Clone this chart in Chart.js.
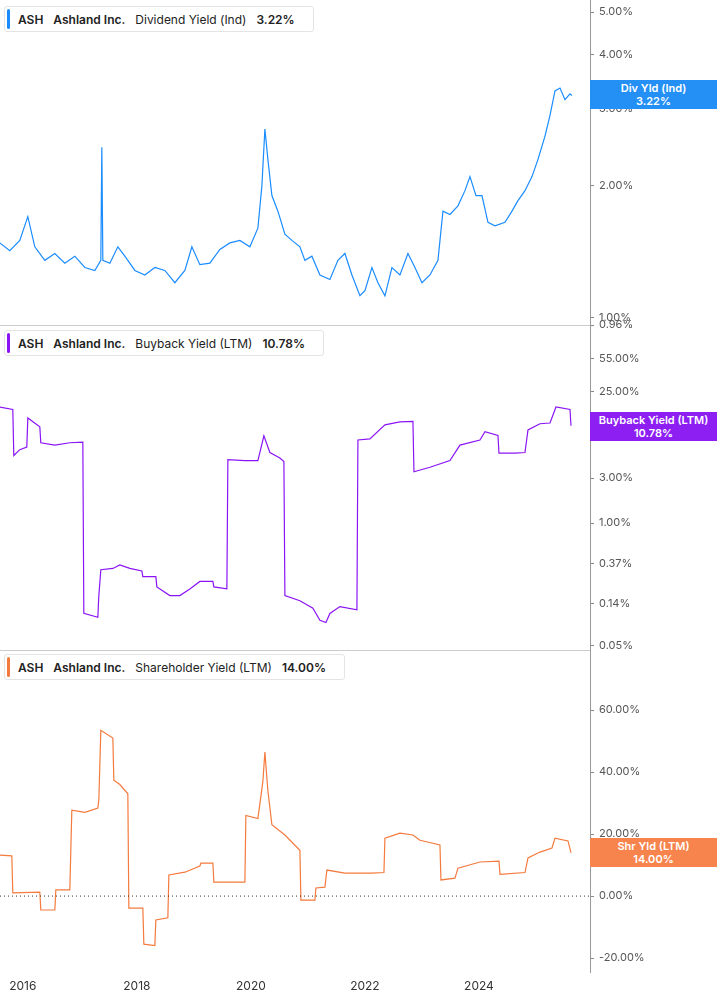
<!DOCTYPE html>
<html><head><meta charset="utf-8">
<script src="https://cdn.jsdelivr.net/npm/chart.js@4/dist/chart.umd.min.js"></script>
<style>
body{margin:0;width:717px;height:1005px;position:relative;background:#fff;font-family:Inter,"Noto Sans",sans-serif;overflow:hidden}
.p{position:absolute;left:0;width:717px}
.leg{position:absolute;left:4px;height:24px;border:1px solid #e4e4e4;border-radius:3px;background:#fff;font-size:12px;color:#222;display:flex;align-items:center;padding-right:8px;white-space:nowrap}
.leg i{display:inline-block;width:3px;height:20px;border-radius:2px;margin:0 8px 0 2px}
.leg b{font-weight:600;margin-right:10px}
.leg span{margin-right:10px}
.tag{position:absolute;left:590px;width:127px;height:29px;color:#fff;font-size:11px;font-weight:600;text-align:center;line-height:13px;padding-top:2px;box-sizing:border-box}
.sep{position:absolute;left:0;width:590px;height:1px;background:#ccc}
</style></head><body>
<div class="p" style="top:325px;height:325px"><canvas id="c2"></canvas></div>
<div class="p" style="top:650px;height:355px"><canvas id="c3"></canvas></div>
<div class="p" style="top:0;height:335px;z-index:2"><canvas id="c1"></canvas></div>
<div class="sep" style="top:325px"></div><div class="sep" style="top:650px"></div>
<div class="leg" style="top:6px;z-index:3"><i style="background:#1a8cff"></i><b>ASH</b><b>Ashland Inc.</b><span>Dividend Yield (Ind)</span><b>3.22%</b></div>
<div class="leg" style="top:330px"><i style="background:#8b14f5"></i><b>ASH</b><b>Ashland Inc.</b><span>Buyback Yield (LTM)</span><b>10.78%</b></div>
<div class="leg" style="top:654px"><i style="background:#f47a3d"></i><b>ASH</b><b>Ashland Inc.</b><span>Shareholder Yield (LTM)</span><b>14.00%</b></div>
<div class="tag" style="top:80px;background:#2490f5;z-index:3">Div Yld (Ind)<br>3.22%</div>
<div class="tag" style="top:412px;background:#8d1ff3">Buyback Yield (LTM)<br>10.78%</div>
<div class="tag" style="top:838px;background:#f7844c">Shr Yld (LTM)<br>14.00%</div>
<script>
const divX=[0,10,20,28,35,45,55,65,75,85,95,101,102,103,110,118,125,135,145,155,165,175,185,192,200,210,220,230,240,250,258,262,265,268,272,278,285,292,300,305,312,320,330,338,345,352,360,365,372,378,385,392,400,408,415,422,430,438,443,450,458,465,470,476,482,488,495,505,512,518,525,532,538,545,550,555,560,565,570,572];
const divY=[1.48,1.42,1.5,1.7,1.45,1.35,1.4,1.33,1.38,1.3,1.28,1.35,2.45,1.35,1.33,1.45,1.38,1.28,1.25,1.3,1.28,1.2,1.28,1.45,1.32,1.33,1.43,1.48,1.5,1.45,1.6,2.0,2.7,2.3,1.9,1.75,1.55,1.5,1.45,1.35,1.38,1.25,1.22,1.35,1.4,1.25,1.12,1.15,1.3,1.2,1.12,1.3,1.25,1.4,1.3,1.2,1.25,1.35,1.75,1.72,1.8,1.95,2.1,1.9,1.9,1.65,1.62,1.65,1.75,1.85,1.95,2.1,2.3,2.6,2.9,3.3,3.35,3.15,3.25,3.22];
const bbX=[0,13,14,20,27,28,40,41,55,70,83,84,98,99,101,113,120,130,142,143,156,157,170,180,190,200,213,214,227,228,245,258,264,270,280,284,285,300,313,320,326,330,340,357,358,370,385,400,413,414,430,450,460,480,485,498,499,515,525,528,540,550,556,570,571];
const bbY=[17,16,5.2,6,6.4,13,10.5,7.1,6.7,7.1,7.2,0.11,0.10,0.17,0.32,0.33,0.36,0.33,0.31,0.27,0.27,0.21,0.17,0.17,0.2,0.24,0.24,0.21,0.2,4.7,4.6,4.6,8.4,5.6,4.9,4.5,0.17,0.15,0.125,0.093,0.088,0.11,0.13,0.12,7.6,7.8,11,11.8,12,3.5,3.9,4.6,6.7,7.6,9.3,8.5,5.5,5.5,5.6,9.7,11.3,11.5,17,16,10.78];
const shX=[0,12,13,40,41,55,56,70,72,85,98,99,101,113,114,120,128,129,143,144,155,156,168,169,185,200,201,213,214,245,246,258,263,265,268,272,285,300,301,315,316,325,327,345,372,384,385,400,413,420,440,441,455,458,480,499,500,525,528,540,552,555,568,571];
const shY=[13.2,13,1,1.3,-4.5,-4.5,2,2,27.7,27,28.4,31,53.5,51,37.4,36,33,-3.9,-3.9,-15.5,-16,-7.7,-7,6.8,7.7,9.7,10.6,10.6,4.5,4.5,26,25,37,46.5,34,23,19.7,14.8,-1.3,-1.3,2.6,2.9,8.4,7.4,7.4,7.6,18.7,20.3,19.7,18,16.5,5.2,5.8,9,11,11.3,7,7.6,12.3,14.2,15.5,18.7,17.8,14];
const yearTicks=[2016,2018,2020,2022,2024];
const divTicks=[1,2,3,4,5];
const bbTicks=[0.05,0.14,0.37,1,3,8,25,55];
const shTicks=[-20,0,20,40,60];
const toYear=x=>2016+(x-23)/57;
const pts=(xs,ys)=>xs.map((x,i)=>({x:toYear(x),y:ys[i]}));
const XMIN=2015.6,XMAX=toYear(590);
function mk(id,data,color,yopt,ticks,showX,padB){
  const xs={type:'linear',min:XMIN,max:XMAX,display:showX,grid:{display:false,drawTicks:true,tickLength:4},border:{display:false},
    afterBuildTicks:s=>{s.ticks=yearTicks.map(v=>({value:v}))},
    ticks:{color:'#333',font:{size:12,family:'Inter'},callback:v=>String(v),maxRotation:0,autoSkip:false}};
  if(showX) xs.afterFit=s=>{s.height=33;s.paddingLeft=0;s.paddingRight=0};
  return new Chart(document.getElementById(id),{type:'line',
    data:{datasets:[{data,borderColor:color,borderWidth:1.2,pointRadius:0,tension:0}]},
    options:{responsive:true,maintainAspectRatio:false,animation:false,layout:{padding:{top:0,left:0,right:0,bottom:padB||0}},
      plugins:{legend:{display:false},tooltip:{enabled:false}},
      scales:{x:xs,y:Object.assign({position:'right',grid:{drawOnChartArea:false,tickLength:4,color:'#888'},border:{display:true,color:'#999'},
        afterFit:s=>{s.width=127;s.paddingTop=0;s.paddingBottom=0},
        afterBuildTicks:s=>{s.ticks=ticks.map(v=>({value:v}))},
        ticks:{color:'#555',font:{size:11,family:'Inter'},padding:5,autoSkip:false,callback:v=>v.toFixed(2)+'%'}},yopt)}}});
}
mk('c1',pts(divX,divY),'#1a8cff',{type:'logarithmic',min:0.96,max:5.33},divTicks.concat([0.96]),false,10);
mk('c2',pts(bbX,bbY),'#8b14f5',{type:'logarithmic',min:0.045,max:126},bbTicks,false);
const zeroLine={id:'z',afterDatasetsDraw(c){if(c.canvas.id!=='c3')return;const y=c.scales.y.getPixelForValue(0),a=c.chartArea,g=c.ctx;g.save();g.setLineDash([1,3]);g.strokeStyle='#333';g.beginPath();g.moveTo(a.left,y);g.lineTo(a.right,y);g.stroke();g.restore();}};
Chart.register(zeroLine);
mk('c3',pts(shX,shY),'#f47a3d',{type:'linear',min:-24.5,max:79.4},shTicks,true);
</script></body></html>
